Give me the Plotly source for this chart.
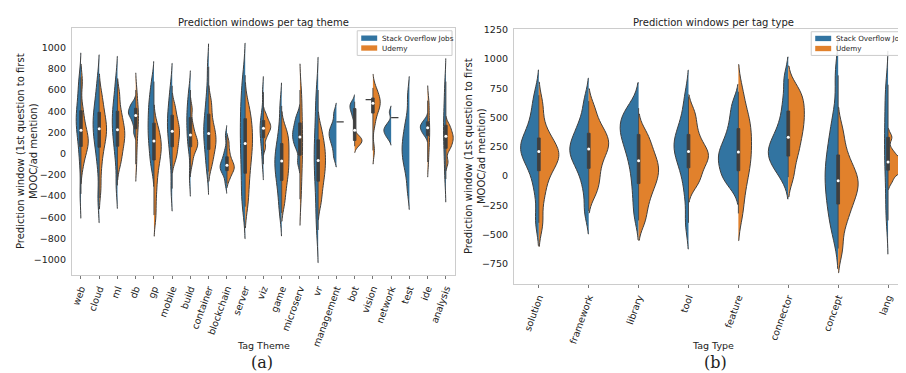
import numpy as np
import plotly.graph_objects as go

# ---------------- data ----------------
theme_cats = ["web", "cloud", "ml", "db", "gp", "mobile", "build", "container",
              "blockchain", "server", "viz", "game", "microserv", "vr", "management",
              "bot", "vision", "network", "test", "ide", "analysis"]

# Stack Overflow Jobs (left halves), values in days
theme_so = [
    [-380, -80, 60, 150, 220, 270, 310, 350, 400, 460, 540, 640, 720],
    [-420, -100, 40, 120, 180, 240, 290, 340, 400, 470, 560, 700],
    [-300, -60, 70, 150, 220, 280, 340, 400, 470, 560, 700],
    [200, 280, 330, 360, 380, 400, 420, 450, 480],
    [-120, -20, 70, 140, 210, 270, 340, 410, 480, 560, 680],
    [-330, -80, 50, 130, 200, 260, 310, 370, 440, 520, 640],
    [-220, 40, 120, 190, 250, 310, 370, 430, 500, 600],
    [-170, -60, 30, 100, 160, 210, 260, 320, 390, 480, 600, 820],
    [-280, -190, -160, -140, -120, -100, -70, -30, 30, 170],
    [-500, -420, -290, -170, -60, 40, 130, 220, 310, 400, 500, 610, 740],
    [-100, 20, 90, 150, 200, 240, 280, 330, 400, 580],
    [-560, -420, -310, -230, -170, -110, -60, -10, 50, 130, 250, 450],
    [-80, 50, 100, 140, 175, 210, 250, 300, 360],
    [-720, -560, -390, -260, -160, -70, 10, 100, 200, 320, 470, 600],
    [-30, 60, 120, 160, 195, 230, 280, 380],
    [220, 340, 380, 410, 430, 450, 470, 490],
    [510],
    [140, 170, 190, 210, 225, 240, 260, 290, 390],
    [-340, -180, -100, -40, 10, 60, 110, 170, 240, 330, 540],
    [170, 200, 220, 240, 255, 270, 290, 320],
    [-240, -100, 20, 110, 190, 260, 340, 430, 540, 680],
]

# Udemy (right halves)
theme_udemy = [
    [-120, -20, 30, 70, 100, 130, 160, 200, 250, 320, 420, 680],
    [-330, -130, 0, 80, 140, 190, 230, 270, 320, 380, 460, 560],
    [-100, -20, 50, 100, 150, 190, 230, 280, 340, 420, 560],
    [-100, 40, 140, 220, 280, 330, 380, 430, 500, 600],
    [-580, -380, -230, -120, -40, 20, 70, 120, 180, 260],
    [-60, 10, 70, 120, 170, 210, 250, 300, 360, 450],
    [-80, 10, 50, 80, 100, 125, 160, 210, 280, 420],
    [-120, -40, 20, 70, 110, 150, 190, 240, 300, 400, 500],
    [-240, -190, -160, -140, -120, -100, -70, -30, 30, 110],
    [-480, -330, -200, -100, -10, 60, 130, 200, 270, 350, 450],
    [60, 150, 195, 225, 245, 265, 290, 320, 370],
    [-470, -350, -260, -190, -130, -70, -10, 50, 110, 170, 230],
    [-430, -280, -160, -60, 30, 110, 190, 280, 380, 500, 600],
    [-460, -340, -250, -180, -120, -60, 0, 60, 130, 230],
    [300],
    [70, 95, 110, 120, 135, 150, 170],
    [30, 280, 370, 420, 450, 475, 500, 530, 570, 620],
    [340],
    [],
    [-80, 20, 90, 150, 200, 250, 300, 370, 450, 500],
    [-80, 40, 80, 110, 140, 165, 190, 230, 270],
]

type_cats = ["solution", "framework", "library", "tool", "feature", "connector", "concept", "lang"]

type_so = [
    [-380, -120, 30, 110, 170, 210, 240, 270, 310, 370, 450, 560, 690],
    [-300, -100, 30, 110, 160, 200, 240, 280, 330, 400, 480, 640],
    [-330, -150, 0, 120, 210, 280, 340, 390, 430, 480, 540, 580],
    [-400, -150, 10, 100, 170, 220, 260, 300, 350, 420, 520, 680],
    [-80, -20, 30, 80, 130, 170, 210, 260, 320, 400, 500, 620],
    [-10, 80, 120, 160, 200, 240, 280, 330, 400, 500, 640, 830],
    [-500, -380, -280, -190, -110, -40, 30, 100, 180, 270, 380, 520, 860],
    [-380, -250, -80, 50, 150, 250, 350, 450, 560, 700, 780],
]

type_udemy = [
    [-400, -180, -50, 50, 110, 150, 180, 210, 250, 310, 400, 600],
    [-150, -60, 20, 100, 170, 220, 260, 300, 340, 390, 460, 580],
    [-380, -250, -150, -80, -20, 30, 80, 130, 190, 270, 360],
    [-80, -20, 40, 100, 140, 170, 200, 240, 290, 360, 450, 550],
    [-320, -150, -30, 60, 130, 200, 270, 340, 410, 480, 560, 720],
    [0, 150, 240, 320, 390, 450, 510, 570, 630, 690, 760],
    [-620, -420, -320, -240, -180, -130, -80, -40, 0, 50, 120, 220, 380],
    [-40, 30, 50, 65, 80, 95, 110, 130, 160, 210, 330],
]

series_names = ["Stack Overflow Jobs", "Udemy"]

# ---------------- style ----------------
BLUE = "#3274a1"
ORANGE = "#e1812c"
GRAY = "#3f3f3f"
FRAME = "#cccccc"
TXT = "#222222"
W, H = 906, 373
BW_FACTOR = 0.4   # kernel bandwidth relative to each half's spread
BW_MIN = 30

fig = go.Figure()


def add_panel(cats, so, ud, xa, ya, boxw):
    for i, cat in enumerate(cats):
        for vals, side, color in ((so[i], "negative", BLUE), (ud[i], "positive", ORANGE)):
            if len(vals) >= 2:
                bw = max(BW_FACTOR * float(np.std(vals)), BW_MIN)
                fig.add_trace(go.Violin(
                    x=[i] * len(vals), y=vals, side=side,
                    scalegroup=f"{xa}-{cat}", scalemode="width",
                    bandwidth=bw, spanmode="soft",
                    fillcolor=color, line=dict(color=GRAY, width=1),
                    points=False, box_visible=False, meanline_visible=False,
                    showlegend=False, hoverinfo="skip", xaxis=xa, yaxis=ya))
            elif len(vals) == 1:
                sgn = -1 if side == "negative" else 1
                fig.add_trace(go.Scatter(
                    x=[i, i + sgn * 0.4], y=[vals[0], vals[0]], mode="lines",
                    line=dict(color=GRAY, width=1.3), showlegend=False,
                    hoverinfo="skip", xaxis=xa, yaxis=ya))
        if len(ud[i]) >= 2:
            comb = list(so[i]) + list(ud[i])
            fig.add_trace(go.Box(
                x=[i] * len(comb), y=comb, width=boxw, boxpoints=False,
                whiskerwidth=0, fillcolor=GRAY, line=dict(color=GRAY, width=0.9),
                showlegend=False, hoverinfo="skip", xaxis=xa, yaxis=ya))
            fig.add_trace(go.Scatter(
                x=[i], y=[float(np.median(comb))], mode="markers",
                marker=dict(color="white", size=3, line=dict(width=0)),
                showlegend=False, hoverinfo="skip", xaxis=xa, yaxis=ya))


add_panel(theme_cats, theme_so, theme_udemy, "x", "y", 0.14)
add_panel(type_cats, type_so, type_udemy, "x2", "y2", 0.055)

x_common = dict(showline=True, mirror=True, linecolor=FRAME, linewidth=1,
                showgrid=False, zeroline=False, ticks="outside", ticklen=3,
                tickcolor="#777777", tickfont=dict(size=9.5, color=TXT), tickangle=-70)
y_common = dict(showline=True, mirror=True, linecolor=FRAME, linewidth=1,
                showgrid=False, zeroline=False, ticks="outside", ticklen=3,
                tickcolor="rgba(0,0,0,0)", tickfont=dict(size=9.5, color=TXT))

fig.update_layout(
    width=W, height=H, margin=dict(l=0, r=0, t=0, b=0),
    plot_bgcolor="white", paper_bgcolor="white",
    font=dict(family="DejaVu Sans", color=TXT),
    showlegend=False,
    violinmode="overlay", boxmode="overlay", violingap=0.2, violingroupgap=0,
    xaxis=dict(domain=[62 / W, 446 / W], range=[-0.5, len(theme_cats) - 0.5],
               tickvals=list(range(len(theme_cats))), ticktext=theme_cats,
               anchor="y", **x_common),
    yaxis=dict(domain=[1 - 266 / H, 1 - 15 / H], range=[-1149, 1187],
               tickvals=list(range(-1000, 1001, 200)), anchor="x", **y_common),
    xaxis2=dict(domain=[505 / W, 905 / W], range=[-0.5, len(type_cats) - 0.5],
                tickvals=list(range(len(type_cats))), ticktext=type_cats,
                anchor="y2", **x_common),
    yaxis2=dict(domain=[1 - 275 / H, 1 - 16 / H], range=[-926, 1258],
                tickvals=list(range(-750, 1251, 250)), anchor="x2", **y_common),
)


# compact matplotlib-like legends
def add_legend(x0, y0, x1, y1, patch_x0, patch_x1, text_x, rows):
    fig.add_shape(type="rect", xref="paper", yref="paper",
                  x0=x0 / W, x1=x1 / W, y0=1 - y0 / H, y1=1 - y1 / H,
                  line=dict(color=FRAME, width=1), fillcolor="rgba(255,255,255,0.85)")
    for (yc, name, color) in rows:
        fig.add_shape(type="rect", xref="paper", yref="paper",
                      x0=patch_x0 / W, x1=patch_x1 / W,
                      y0=1 - (yc - 2.7) / H, y1=1 - (yc + 2.7) / H,
                      line=dict(width=0), fillcolor=color)
        fig.add_annotation(text=name, x=text_x / W, y=1 - yc / H, xref="paper", yref="paper",
                           showarrow=False, xanchor="left", yanchor="middle",
                           font=dict(size=7.2, family="DejaVu Sans", color=TXT))


add_legend(348, 18, 443, 43, 352, 368, 371,
           [(25.5, series_names[0], BLUE), (35.5, series_names[1], ORANGE)])
add_legend(803, 19, 903, 43, 807, 823, 826,
           [(25.8, series_names[0], BLUE), (36, series_names[1], ORANGE)])

ann = [
    dict(text="Prediction windows per tag theme", x=254, y=10, size=10, family="DejaVu Sans", angle=0),
    dict(text="Prediction windows per tag type", x=705, y=10, size=10, family="DejaVu Sans", angle=0),
    dict(text="Prediction window (1st question to first<br>MOOC/ad mention)", x=17, y=140, size=10, family="DejaVu Sans", angle=-90),
    dict(text="Prediction window (1st question to first<br>MOOC/ad mention)", x=466, y=145, size=10, family="DejaVu Sans", angle=-90),
    dict(text="Tag Theme", x=254, y=337, size=9.5, family="DejaVu Sans", angle=0),
    dict(text="Tag Type", x=705, y=337, size=9.5, family="DejaVu Sans", angle=0),
    dict(text="(a)", x=253, y=354, size=16, family="DejaVu Serif", angle=0),
    dict(text="(b)", x=707, y=354, size=16, family="DejaVu Serif", angle=0),
]
for a in ann:
    fig.add_annotation(text=a["text"], x=a["x"] / W, y=1 - a["y"] / H, xref="paper", yref="paper",
                       showarrow=False, xanchor="center", yanchor="middle", textangle=a["angle"],
                       font=dict(size=a["size"], family=a["family"], color=TXT))

fig.write_html("out.html")
